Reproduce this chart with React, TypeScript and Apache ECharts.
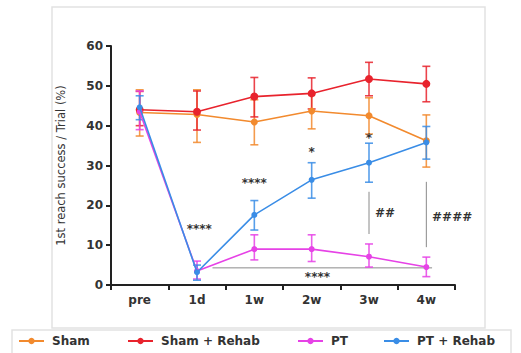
import React, { useEffect, useRef } from "react";
import * as echarts from "echarts";

const categories = ["pre", "1d", "1w", "2w", "3w", "4w"];
const yTicks = { min: 0, max: 60, interval: 10 };

const shamMean = [43.3, 42.8, 40.9, 43.7, 42.5, 36.2];
const shamLow = [37.4, 35.8, 35.2, 39.2, 37.9, 29.6];
const shamHigh = [49.0, 49.0, 46.5, 48.0, 47.0, 42.7];

const shamRehabMean = [44.0, 43.5, 47.3, 48.1, 51.7, 50.5];
const shamRehabLow = [40.0, 38.9, 42.2, 44.2, 47.5, 46.0];
const shamRehabHigh = [48.6, 48.7, 52.1, 52.0, 55.9, 54.9];

const ptMean = [43.5, 3.5, 9.0, 9.0, 7.1, 4.5];
const ptLow = [39.0, 1.5, 6.3, 5.9, 4.5, 2.1];
const ptHigh = [48.7, 6.0, 12.6, 12.6, 10.3, 7.0];

const ptRehabMean = [44.6, 3.2, 17.6, 26.4, 30.7, 35.8];
const ptRehabLow = [41.5, 1.2, 13.8, 21.8, 25.8, 31.6];
const ptRehabHigh = [47.5, 5.0, 21.2, 30.7, 35.6, 39.8];

const seriesNames = ["Sham", "Sham + Rehab", "PT", "PT + Rehab"];

// significance labels: category index, value, text
const annotCat = [1, 2, 3, 4, 3, 4, 5];
const annotValue = [14.1, 25.6, 33.4, 36.9, 2.0, 18.0, 17.0];
const annotText = ["****", "****", "*", "*", "****", "##", "####"];

// brackets: [cat1, value1, cat2, value2]
const bracketCat1 = [1, 4, 5];
const bracketVal1 = [4.3, 23.4, 25.9];
const bracketCat2 = [5, 4, 5];
const bracketVal2 = [4.3, 12.8, 9.5];

// horizontal offsets in band widths (layout only)
const annotShift = [0.04, 0, 0, 0, 0.1, 0.28, 0.45];
const bracketShift1 = [0.27, 0, 0];
const bracketShift2 = [0.1, 0, 0];

const colors = ["#F28A2E", "#E8232D", "#E642E6", "#3A8DE6"];
const markerSizes = [7, 8, 6, 6];

const FONT = "DejaVu Sans";

export default function App() {
  const ref = useRef<HTMLDivElement>(null);

  useEffect(() => {
    if (!ref.current) return;
    const chart = echarts.init(ref.current, undefined, { renderer: "svg" });

    const means = [shamMean, shamRehabMean, ptMean, ptRehabMean];
    const lows = [shamLow, shamRehabLow, ptLow, ptRehabLow];
    const highs = [shamHigh, shamRehabHigh, ptHigh, ptRehabHigh];

    const errSeries = means.map((_, s) => ({
      type: "custom",
      z: 2 + s,
      silent: true,
      encode: { x: 0, y: [1, 2] },
      data: categories.map((_, i) => [i, lows[s][i], highs[s][i]]),
      renderItem: (params: any, api: any) => {
        const x = api.value(0);
        const pLo = api.coord([x, api.value(1)]);
        const pHi = api.coord([x, api.value(2)]);
        const w = 4;
        const st = { stroke: colors[s], lineWidth: 1.6, opacity: 0.85 };
        return {
          type: "group",
          children: [
            { type: "line", shape: { x1: pLo[0], y1: pLo[1], x2: pHi[0], y2: pHi[1] }, style: st },
            { type: "line", shape: { x1: pLo[0] - w, y1: pLo[1], x2: pLo[0] + w, y2: pLo[1] }, style: st },
            { type: "line", shape: { x1: pHi[0] - w, y1: pHi[1], x2: pHi[0] + w, y2: pHi[1] }, style: st },
          ],
        };
      },
    }));

    const lineSeries = means.map((m, s) => ({
      type: "line",
      name: seriesNames[s],
      data: m,
      z: 3 + s,
      symbol: "circle",
      symbolSize: markerSizes[s],
      itemStyle: { color: colors[s] },
      lineStyle: { color: colors[s], width: 1.6 },
    }));

    const bracketSeries = {
      type: "custom",
      silent: true,
      z: 1,
      data: bracketCat1.map((c, i) => [c, bracketVal1[i], bracketCat2[i], bracketVal2[i]]),
      encode: { x: 0, y: 1 },
      renderItem: (params: any, api: any) => {
        const i = params.dataIndex;
        const band = api.size([1, 0])[0];
        const p1 = api.coord([api.value(0), api.value(1)]);
        const p2 = api.coord([api.value(2), api.value(3)]);
        return {
          type: "line",
          shape: {
            x1: p1[0] + bracketShift1[i] * band,
            y1: p1[1],
            x2: p2[0] + bracketShift2[i] * band,
            y2: p2[1],
          },
          style: { stroke: "#8a8a8a", lineWidth: 1 },
        };
      },
    };

    const annotSeries = {
      type: "custom",
      silent: true,
      z: 10,
      data: annotCat.map((c, i) => [c, annotValue[i]]),
      encode: { x: 0, y: 1 },
      renderItem: (params: any, api: any) => {
        const i = params.dataIndex;
        const band = api.size([1, 0])[0];
        const p = api.coord([api.value(0), api.value(1)]);
        return {
          type: "text",
          x: p[0] + annotShift[i] * band,
          y: p[1],
          style: {
            text: annotText[i],
            fill: "#333",
            font: `bold 12px "${FONT}"`,
            align: "center",
            verticalAlign: "middle",
          },
        };
      },
    };

    const legendLefts = [18, 127, 297, 383];

    chart.setOption({
      animation: false,
      backgroundColor: "#ffffff",
      graphic: [
        {
          type: "rect",
          shape: { x: 52, y: 7, width: 433, height: 321 },
          style: { fill: "none", stroke: "#e2e2e2", lineWidth: 1.5 },
          silent: true,
          z: -10,
        },
        {
          type: "rect",
          shape: { x: 12, y: 330, width: 499, height: 30 },
          style: { fill: "#ffffff", stroke: "#e2e2e2", lineWidth: 1.5 },
          silent: true,
          z: -10,
        },
      ],
      legend: seriesNames.map((n, s) => ({
        data: [n],
        left: legendLefts[s],
        top: 335,
        padding: 0,
        itemWidth: 25,
        itemHeight: 8,
        itemGap: 8,
        textStyle: { fontFamily: FONT, fontWeight: "bold", fontSize: 12, color: "#333", padding: [0, 0, 0, 3] },
      })),
      grid: { left: 111, right: 66, top: 46, bottom: 68, containLabel: false },
      xAxis: {
        type: "category",
        data: categories,
        boundaryGap: true,
        axisLine: { show: true, lineStyle: { color: "#222", width: 2 } },
        axisTick: { show: true, inside: false, length: 5, lineStyle: { color: "#222", width: 2 } },
        axisLabel: { fontFamily: FONT, fontWeight: "bold", fontSize: 12, color: "#333", margin: 9 },
      },
      yAxis: {
        type: "value",
        min: yTicks.min,
        max: yTicks.max,
        interval: yTicks.interval,
        name: "1st reach success / Trial (%)",
        nameLocation: "middle",
        nameGap: 44,
        nameTextStyle: { fontFamily: FONT, fontSize: 11.5, color: "#333" },
        splitLine: { show: false },
        axisLine: { show: true, lineStyle: { color: "#222", width: 2 } },
        axisTick: { show: true, length: 5, lineStyle: { color: "#222", width: 2 } },
        axisLabel: { fontFamily: FONT, fontWeight: "bold", fontSize: 12, color: "#333", margin: 8 },
      },
      series: [bracketSeries, ...errSeries, ...lineSeries, annotSeries],
    });

    return () => chart.dispose();
  }, []);

  return (
    <div
      ref={ref}
      style={{ position: "fixed", left: 0, top: 0, width: 521, height: 353 }}
    />
  );
}
